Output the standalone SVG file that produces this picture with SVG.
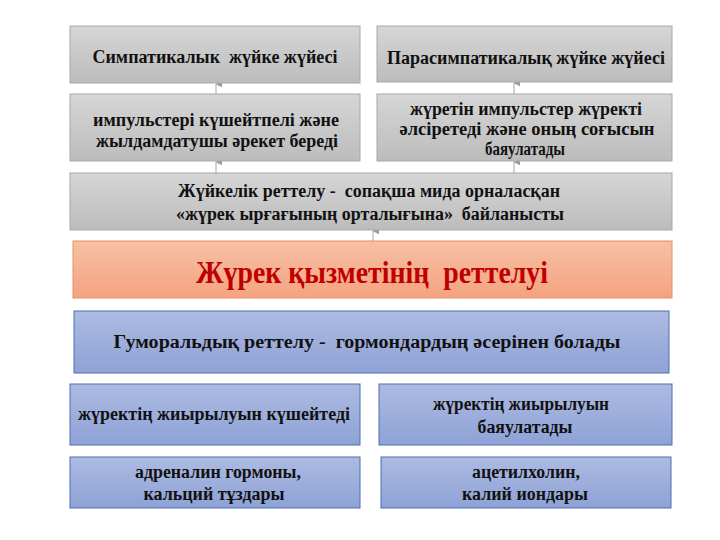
<svg xmlns="http://www.w3.org/2000/svg" width="720" height="540" viewBox="0 0 720 540">
<defs>
<linearGradient id="gGray" x1="0" y1="0" x2="0" y2="1">
<stop offset="0" stop-color="#d6d6d6"/><stop offset="1" stop-color="#bcbcbc"/>
</linearGradient>
<linearGradient id="gRed" x1="0" y1="0" x2="0" y2="1">
<stop offset="0" stop-color="#f7c0a5"/><stop offset="1" stop-color="#f4a380"/>
</linearGradient>
<linearGradient id="gBlue" x1="0" y1="0" x2="0" y2="1">
<stop offset="0" stop-color="#adbbe2"/><stop offset="1" stop-color="#8ea2d6"/>
</linearGradient>
<marker id="ah" viewBox="0 0 10 10" refX="5" refY="1" markerWidth="7" markerHeight="7" orient="auto-start-reverse" markerUnits="userSpaceOnUse">
<path d="M0,10 L5,0 L10,10 Z" fill="#9a9a9a"/>
</marker>
<style>
.gray{fill:url(#gGray);stroke:#a8a8a8;stroke-width:1}
.red{fill:url(#gRed);stroke:#e8915e;stroke-width:1}
.blue{fill:url(#gBlue);stroke:#4f6fb0;stroke-width:1}
text{font-weight:bold;text-anchor:middle;fill:#111;white-space:pre}
.t{font-size:18px}
.title{font-size:31px;fill:#c00000}
.conn{stroke:#b4b4b4;stroke-width:1.2;fill:none}
</style>
</defs>
<rect width="720" height="540" fill="#ffffff"/>

<g id="connectors">
<line class="conn" x1="216" y1="94" x2="216" y2="84" marker-end="url(#ah)"/>
<line class="conn" x1="216" y1="173" x2="216" y2="162" marker-end="url(#ah)"/>
<line class="conn" x1="514" y1="94" x2="514" y2="83" marker-end="url(#ah)"/>
<line class="conn" x1="514" y1="173" x2="514" y2="162" marker-end="url(#ah)"/>
<line class="conn" x1="373" y1="241" x2="373" y2="231" marker-end="url(#ah)"/>
</g>

<g id="n-symp" font-family="'Liberation Serif', 'DejaVu Serif', serif">
<rect class="gray" x="70" y="26" width="290" height="57"/>
<text class="t" x="215" y="63" textLength="245" lengthAdjust="spacingAndGlyphs">Симпатикалык  жүйке жүйесі</text>
</g>
<g id="n-para" font-family="'Liberation Serif', 'DejaVu Serif', serif">
<rect class="gray" x="377" y="26" width="295" height="56"/>
<text class="t" x="526" y="64" textLength="278" lengthAdjust="spacingAndGlyphs">Парасимпатикалық жүйке жүйесі</text>
</g>
<g id="n-symp-effect" font-family="'Liberation Serif', 'DejaVu Serif', serif">
<rect class="gray" x="70" y="94" width="290" height="67"/>
<text class="t" x="216" y="126" textLength="246" lengthAdjust="spacingAndGlyphs">импульстері күшейтпелі және</text>
<text class="t" x="217" y="147" textLength="242" lengthAdjust="spacingAndGlyphs">жылдамдатушы әрекет береді</text>
</g>
<g id="n-para-effect" font-family="'Liberation Serif', 'DejaVu Serif', serif">
<rect class="gray" x="377" y="94" width="295" height="67"/>
<text class="t" x="526" y="115" textLength="232" lengthAdjust="spacingAndGlyphs">жүретін импульстер жүректі</text>
<text class="t" x="527" y="135" textLength="255" lengthAdjust="spacingAndGlyphs">әлсіретеді және оның соғысын</text>
<text class="t" x="525" y="155" textLength="80" lengthAdjust="spacingAndGlyphs">баяулатады</text>
</g>
<g id="n-nerve" font-family="'Liberation Serif', 'DejaVu Serif', serif">
<rect class="gray" x="70" y="173" width="602" height="57"/>
<text class="t" x="369" y="197" textLength="382" lengthAdjust="spacingAndGlyphs">Жүйкелік реттелу -  сопақша мида орналасқан</text>
<text class="t" x="370" y="220" textLength="388" lengthAdjust="spacingAndGlyphs">«жүрек ырғағының орталығына»  байланысты</text>
</g>
<g id="n-main" font-family="'Liberation Serif', 'DejaVu Serif', serif">
<rect class="red" x="73" y="241" width="599" height="57"/>
<text class="title" x="372" y="283" textLength="352" lengthAdjust="spacingAndGlyphs">Жүрек қызметінің  реттелуі</text>
</g>
<g id="n-humoral" font-family="'Liberation Serif', 'DejaVu Serif', serif">
<rect class="blue" x="74" y="311" width="595" height="62"/>
<text class="t" x="367" y="348" textLength="507" lengthAdjust="spacingAndGlyphs">Гуморальдық реттелу -  гормондардың әсерінен болады</text>
</g>
<g id="n-increase" font-family="'Liberation Serif', 'DejaVu Serif', serif">
<rect class="blue" x="70" y="384" width="290" height="61"/>
<text class="t" x="214" y="420" textLength="272" lengthAdjust="spacingAndGlyphs">жүректің жиырылуын күшейтеді</text>
</g>
<g id="n-decrease" font-family="'Liberation Serif', 'DejaVu Serif', serif">
<rect class="blue" x="379" y="384" width="293" height="61"/>
<text class="t" x="521" y="410" textLength="176" lengthAdjust="spacingAndGlyphs">жүректің жиырылуын</text>
<text class="t" x="525" y="433" textLength="95" lengthAdjust="spacingAndGlyphs">баяулатады</text>
</g>
<g id="n-adrenalin" font-family="'Liberation Serif', 'DejaVu Serif', serif">
<rect class="blue" x="70" y="457" width="290" height="51"/>
<text class="t" x="218" y="478" textLength="166" lengthAdjust="spacingAndGlyphs">адреналин гормоны,</text>
<text class="t" x="214" y="500" textLength="141" lengthAdjust="spacingAndGlyphs">кальций тұздары</text>
</g>
<g id="n-acetyl" font-family="'Liberation Serif', 'DejaVu Serif', serif">
<rect class="blue" x="381" y="457" width="290" height="51"/>
<text class="t" x="526" y="478" textLength="108" lengthAdjust="spacingAndGlyphs">ацетилхолин,</text>
<text class="t" x="525" y="500" textLength="126" lengthAdjust="spacingAndGlyphs">калий иондары</text>
</g>
</svg>
